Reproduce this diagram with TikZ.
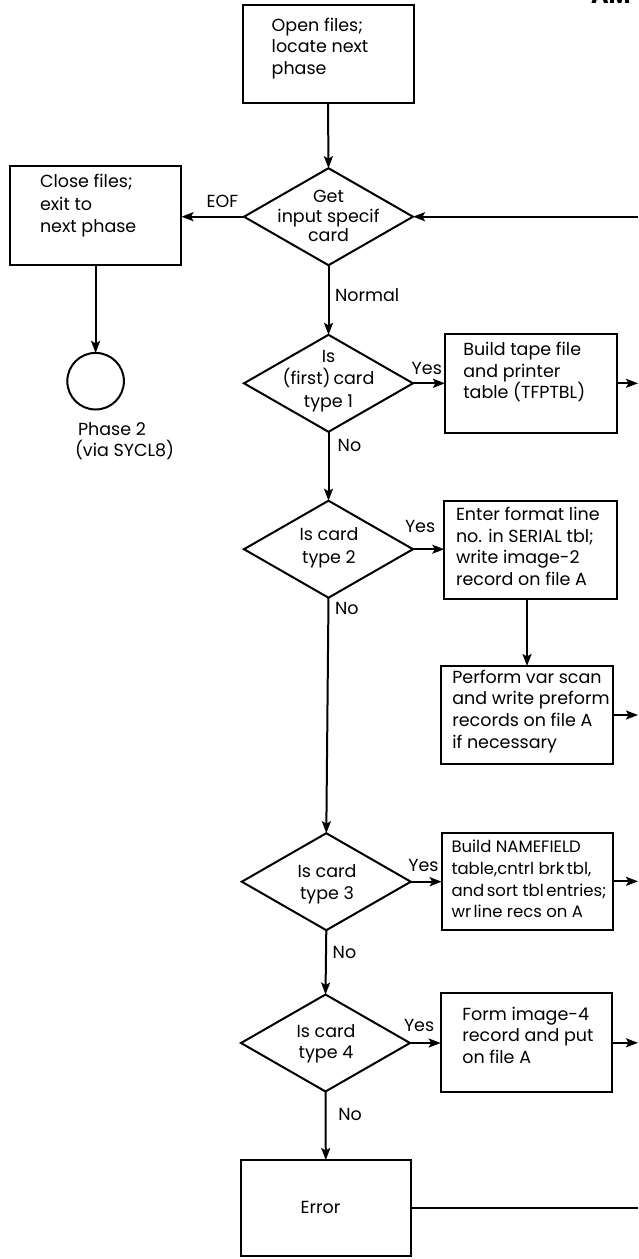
\documentclass[tikz,border=0pt]{standalone}
\usepackage{fontspec}
\setmainfont{Poppins}
\usetikzlibrary{arrows.meta,shapes.geometric}
\begin{document}
\begin{tikzpicture}[x=1pt,y=-1pt,
  every node/.style={inner sep=0pt, outer sep=0pt},
  txt/.style={font=\fontsize{17.5}{21.7}\selectfont, align=left, anchor=west},
  ctxt/.style={font=\fontsize{17.5}{21.7}\selectfont, align=center},
  lbl/.style={font=\fontsize{17.5}{19}\selectfont, anchor=west},
  procbox/.style={draw, line width=2pt, rectangle},
  decision/.style={draw, line width=2pt, diamond, minimum width=169pt, minimum height=97pt},
  conn/.style={line width=2pt},
  arr/.style={conn, -{Stealth[length=12pt,width=9pt,inset=2.5pt]}}]
\useasboundingbox (0,0) rectangle (638,1259);

% header fragment
\node[anchor=base west, font=\bfseries\fontsize{24}{24}\selectfont] (hdr) at (591,3.5) {AM};

% start
\node[procbox, minimum width=171pt, minimum height=98pt] (open) at (328,54) {};
\node[txt] (topen) at (271.7,48.3) {Open files;\\locate next\\phase};

\node[decision] (get) at (328.5,216.7) {};
\node[ctxt, font=\fontsize{17.5}{19.3}\selectfont] (tget) at (328.5,216) {Get\\input specif\\card};

\node[procbox, minimum width=171.7pt, minimum height=99.3pt] (close) at (95.6,215.3) {};
\node[txt, font=\fontsize{17.5}{22.5}\selectfont] (tclose) at (40,205.8) {Close files;\\exit to\\next phase};

\node[draw, circle, line width=2pt, minimum size=56.6pt] (ph2) at (95.6,381.2) {};
\node[txt] (tph2) at (75,441) {\hspace{3pt}Phase 2\\(via SYCL8)};

% type 1
\node[decision] (d1) at (328.5,383.3) {};
\node[ctxt, font=\fontsize{17.5}{22.5}\selectfont] (td1) at (328.5,381) {Is\\(first)\,card\\type 1};
\node[procbox, minimum width=171.7pt, minimum height=98.7pt] (b1) at (530.8,383.3) {};
\node[txt] (tb1) at (463.3,372.2) {Build tape file\\and printer\\table (TFPTBL)};

% type 2
\node[decision] (d2) at (328.5,549.2) {};
\node[ctxt, font=\fontsize{17.5}{23}\selectfont] (td2) at (329,547.7) {Is card\\type 2};
\node[procbox, minimum width=172.4pt, minimum height=98.3pt] (b2) at (530.5,549.8) {};
\node[txt] (tb2) at (456,546.3) {Enter format line\\no. in SERIAL tbl;\\write image-2\\record on file A};
\node[procbox, minimum width=172.6pt, minimum height=98pt] (b2b) at (527,715) {};
\node[txt] (tb2b) at (452.3,711.3) {Perform var scan\\and write preform\\records on file A\\if necessary};

% type 3
\node[decision] (d3) at (326.3,881.7) {};
\node[ctxt] (td3) at (327,884.2) {Is card\\type 3};
\node[procbox, minimum width=171.6pt, minimum height=97.3pt] (b3) at (527.5,881.3) {};
\node[txt, font=\fontsize{16.5}{21.7}\selectfont] (tb3) at (451.5,879) {Build NAMEFIELD\\table,cntrl brk\hspace{2.5pt}tbl,\\and\hspace{2.5pt}sort tbl\hspace{2.5pt}entries;\\wr\hspace{2.5pt}line recs on A};

% type 4
\node[decision] (d4) at (325.5,1043) {};
\node[ctxt] (td4) at (326,1043.7) {Is card\\type 4};
\node[procbox, minimum width=171pt, minimum height=99pt] (b4) at (526.2,1042.8) {};
\node[txt] (tb4) at (462.3,1035.2) {Form image-4\\record and put\\on file A};

% error
\node[procbox, minimum width=170.3pt, minimum height=96pt] (err) at (325.8,1208) {};
\node[ctxt] (terr) at (320.5,1207.3) {Error};

% right edge coordinate
\coordinate (r0) at (638,216.7);

% labels
\node[lbl] (leof) at (206.7,201.7) {EOF};
\node[lbl] (lnorm) at (335,295) {Normal};
\node[lbl] (ly1) at (411.7,368.3) {Yes};
\node[lbl] (ln1) at (337.7,445) {No};
\node[lbl] (ly2) at (405,526.7) {Yes};
\node[lbl] (ln2) at (335,608.3) {No};
\node[lbl] (ly3) at (408.3,865) {Yes};
\node[lbl] (ln3) at (332.7,952.7) {No};
\node[lbl] (ly4) at (404,1025) {Yes};
\node[lbl] (ln4) at (338.3,1114) {No};

% connectors
\draw[arr] (open.south) -- (get.north);
\draw[arr] (r0) -- (get.east);
\draw[arr] (get.west) -- (get.west -| close.east);
\draw[arr] (close.south) -- (ph2.north);
\draw[arr] (get.south) -- (d1.north);
\draw[arr] (d1.east) -- (d1.east -| b1.west);
\draw[arr] (b1.east) -- (b1.east -| r0);
\draw[arr] (d1.south) -- (d2.north);
\draw[arr] (d2.east) -- (d2.east -| b2.west);
\draw[arr] (b2.south -| b2b.north) -- (b2b.north);
\draw[arr] (b2b.east) -- (b2b.east -| r0);
\draw[arr] (d2.south) -- (d3.north);
\draw[arr] (d3.east) -- (d3.east -| b3.west);
\draw[arr] (b3.east) -- (b3.east -| r0);
\draw[arr] (d3.south) -- (d4.north);
\draw[arr] (d4.east) -- (d4.east -| b4.west);
\draw[arr] (b4.east) -- (b4.east -| r0);
\draw[arr] (d4.south) -- (err.north);
\draw[conn] (err.east) -- (err.east -| r0);
\end{tikzpicture}
\end{document}
